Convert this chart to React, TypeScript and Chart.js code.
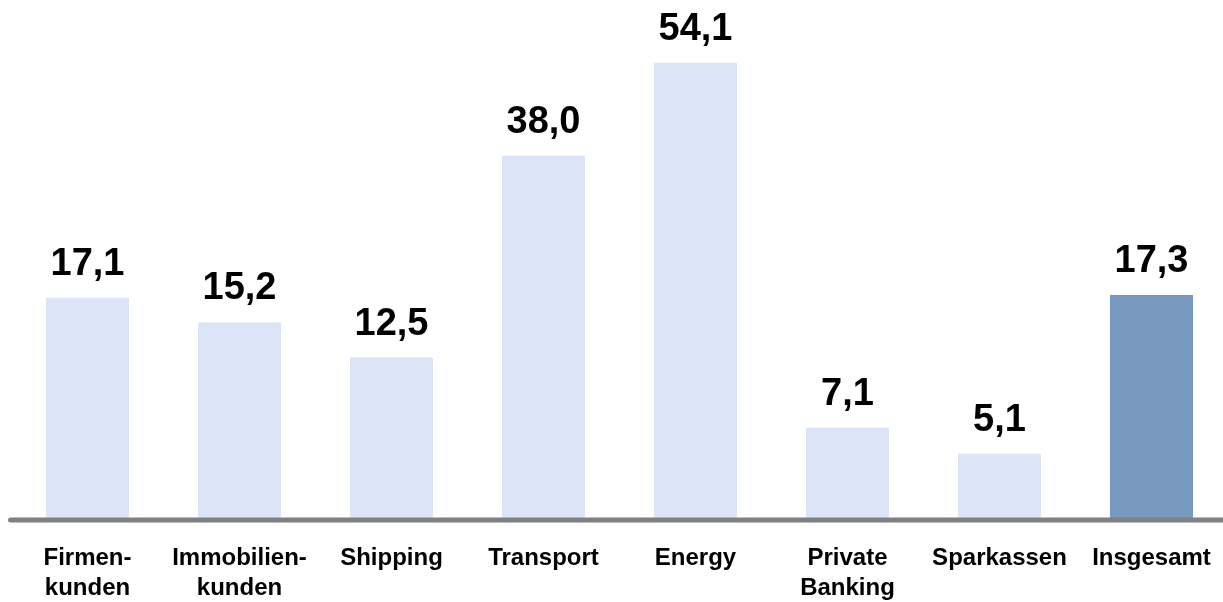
import React, { useEffect, useRef } from 'react';
import { Chart, registerables, LinearScale } from 'chart.js';

const categories: string[][] = [
  ['Firmen-', 'kunden'],
  ['Immobilien-', 'kunden'],
  ['Shipping'],
  ['Transport'],
  ['Energy'],
  ['Private', 'Banking'],
  ['Sparkassen'],
  ['Insgesamt'],
];
const values: number[] = [17.1, 15.2, 12.5, 38.0, 54.1, 7.1, 5.1, 17.3];
const barColors: string[] = ['#dce4f8', '#dce4f8', '#dce4f8', '#dce4f8', '#dce4f8', '#dce4f8', '#dce4f8', '#7799bf'];

// The original chart's value axis is compressed above 20 (broken axis).
const BREAK_AT = 20;
const COMPRESS = 0.445;
const compress = (v: number) => (v <= BREAK_AT ? v : BREAK_AT + (v - BREAK_AT) * COMPRESS);
const expand = (t: number) => (t <= BREAK_AT ? t : BREAK_AT + (t - BREAK_AT) / COMPRESS);

class BrokenLinearScale extends LinearScale {
  static id = 'brokenLinear';
  static defaults = LinearScale.defaults;
  getPixelForValue(value: any) {
    return super.getPixelForValue(value == null ? value : compress(value));
  }
  getValueForPixel(pixel: number) {
    return expand(super.getValueForPixel(pixel) as number);
  }
}

Chart.register(...registerables, BrokenLinearScale as any);

const FONT = '"Liberation Sans", Arial, sans-serif';

const valueLabels = {
  id: 'valueLabels',
  afterDatasetsDraw(chart: any) {
    const ctx = chart.ctx;
    const meta = chart.getDatasetMeta(0);
    ctx.save();
    ctx.font = `bold 38px ${FONT}`;
    ctx.fillStyle = '#000000';
    ctx.textAlign = 'center';
    ctx.textBaseline = 'alphabetic';
    meta.data.forEach((el: any, i: number) => {
      const txt = values[i].toFixed(1).replace('.', ',');
      ctx.fillText(txt, el.x, el.y - 23);
    });
    ctx.restore();
  },
};

const baseLine = {
  id: 'baseLine',
  afterDatasetsDraw(chart: any) {
    const ctx = chart.ctx;
    const y = chart.chartArea.bottom;
    ctx.save();
    ctx.strokeStyle = '#808080';
    ctx.lineWidth = 5;
    ctx.lineCap = 'round';
    ctx.beginPath();
    ctx.moveTo(10.5, y);
    ctx.lineTo(chart.width + 5, y);
    ctx.stroke();
    ctx.restore();
  },
};

export default function App() {
  const ref = useRef<HTMLCanvasElement>(null);
  useEffect(() => {
    document.body.style.margin = '0';
    const chart = new Chart(ref.current as HTMLCanvasElement, {
      type: 'bar',
      data: {
        labels: categories,
        datasets: [
          {
            data: values,
            backgroundColor: barColors,
            borderWidth: 0,
            barPercentage: 0.546,
            categoryPercentage: 1,
          },
        ],
      },
      options: {
        animation: false,
        responsive: false,
        layout: { padding: { left: 11.5, right: 12.5, top: 0, bottom: 0 } },
        plugins: { legend: { display: false }, tooltip: { enabled: false } },
        scales: {
          x: {
            grid: { display: false, drawTicks: false },
            border: { display: false },
            ticks: {
              autoSkip: false,
              maxRotation: 0,
              minRotation: 0,
              padding: 23,
              color: '#000000',
              font: { family: FONT, size: 24, weight: 'bold', lineHeight: 1.25 },
            },
            afterFit: (s: any) => {
              s.height = 82;
            },
          },
          y: {
            type: 'brokenLinear' as any,
            display: false,
            min: 0,
            max: 40,
          },
        },
      },
      plugins: [valueLabels, baseLine],
    });
    return () => chart.destroy();
  }, []);
  return (
    <div style={{ width: 1223, height: 602, overflow: 'hidden', background: '#ffffff' }}>
      <canvas ref={ref} width={1240} height={602} style={{ display: 'block' }} />
    </div>
  );
}
